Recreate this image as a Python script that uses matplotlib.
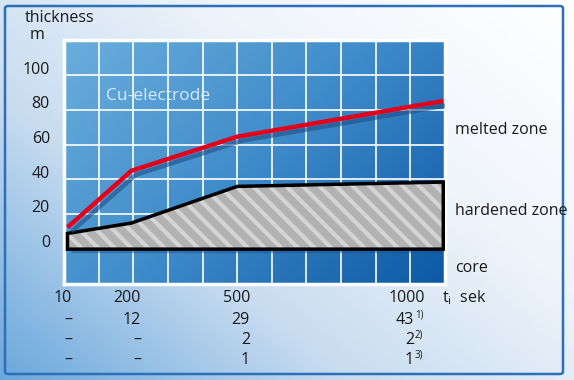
import numpy as np
import matplotlib
matplotlib.use("Agg")
import matplotlib.pyplot as plt
import matplotlib.patheffects as pe
import matplotlib.transforms as mtransforms
from matplotlib.patches import FancyBboxPatch
from matplotlib.colors import LinearSegmentedColormap

plt.rcParams['font.family'] = ['Open Sans', 'DejaVu Sans']
plt.rcParams['hatch.linewidth'] = 3.0

# time (s) and thickness values
melt_t = [10, 200, 500, 1000]
melt_y = [12.5, 45, 64.5, 85]
hard_t = [10, 200, 500, 1000]
hard_y = [9, 15, 36, 38.5]

y_ticks = [0, 20, 40, 60, 80, 100]

# table below the chart
table_cols = ["10", "200", "500", "1000"]
row_hv = ["–", "12", "29", "43"]
row_b = ["–", "–", "2", "2"]
row_c = ["–", "–", "1", "1"]
notes = ["1)", "2)", "3)"]

zones = ["melted zone", "hardened zone", "core"]

# schematic (non-linear) time axis: time -> grid column
bp_t = np.array([0, 10, 200, 500, 1000, 1010])
bp_c = np.array([0, 0.1, 1.95, 5.0, 10.95, 11.0])


def fwd(t):
    return np.interp(t, bp_t, bp_c)


def inv(c):
    return np.interp(c, bp_c, bp_t)


fig = plt.figure(figsize=(5.74, 3.80), dpi=100)
txt = dict(fontsize=11.5, color='#1a1a1a', va='center')

# background of the whole panel (blue bottom-left -> white top-right)
bg = fig.add_axes([0, 0, 1, 1], zorder=-10)
bg.set_axis_off()
gx, gy = np.meshgrid(np.linspace(0, 1, 200), np.linspace(0, 1, 200))
g = np.clip(((1 - gx) * 1.1 + gy * 0.9) / 2.0, 0, 1)
bg_cmap = LinearSegmentedColormap.from_list("bg", ["#ffffff", "#f0f5fb", "#c8dcf0", "#6aa8dc"])
bg.imshow(g, cmap=bg_cmap, extent=[0, 1, 0, 1], aspect='auto', origin='upper')
bg.add_patch(FancyBboxPatch((5 / 574, 6 / 380), 558 / 574, 368 / 380,
                            boxstyle="round,pad=0,rounding_size=0.006",
                            fill=False, ec='#2f6fb8', lw=1.8, transform=bg.transAxes))
bg.set_xlim(0, 1)
bg.set_ylim(0, 1)

ax = fig.add_axes([64 / 574, 1 - 284 / 380, 381 / 574, 244 / 380])
ax.set_xscale('function', functions=(fwd, inv))
ax.set_xlim(0, 1010)
ax.set_ylim(-20, 120)

# blue gradient of the plot area
px, py = np.meshgrid(np.linspace(0, 1, 200), np.linspace(0, 1, 200))
pg = px * 0.6 + py * 0.4
plot_cmap = LinearSegmentedColormap.from_list("pl", ["#6aaedc", "#3f8bca", "#0b58a5"])
ax.imshow(pg, cmap=plot_cmap, extent=[0, 1, 0, 1], aspect='auto', origin='upper',
          transform=ax.transAxes, zorder=0)

ax.set_xticks(inv(np.arange(0, 12)))
ax.set_yticks(np.arange(-20, 121, 20))
ax.grid(True, color='white', lw=1.2, zorder=1)
ax.tick_params(length=0, labelbottom=False, labelleft=False)
for s in ax.spines.values():
    s.set_color('white')
    s.set_linewidth(2.5)

# hardened zone
xs = list(hard_t) + [1000, 10]
ys = list(hard_y) + [0, 0]
shadow = mtransforms.offset_copy(ax.transData, fig=fig, x=4, y=-4, units='dots')
ax.fill(xs, ys, facecolor='#1d4f86', alpha=0.45, lw=0, zorder=2, transform=shadow)
ax.fill(xs, ys, facecolor='#b2b2b2', edgecolor='#d4d4d4', hatch='\\\\', lw=0, zorder=3)
ax.fill(xs, ys, facecolor='none', edgecolor='black', lw=2.5, zorder=4, joinstyle='miter')

# melted zone line
ax.plot(melt_t, melt_y, color='#e3001b', lw=3.2, zorder=5, solid_capstyle='butt',
        path_effects=[pe.SimpleLineShadow(offset=(3, -3), shadow_color='#1d4f86', alpha=0.6),
                      pe.Normal()])

ax.text(0.11, 0.77, "Cu-electrode", transform=ax.transAxes, color='#d9ebf9',
        fontsize=12.5, va='center', ha='left', zorder=6)

# axis labels
fig.text(25 / 574, 1 - 18 / 380, "thickness", ha='left', **txt)
fig.text(30 / 574, 1 - 35 / 380, "m", ha='left', **txt)
for v in y_ticks:
    ypix = 243 - v / 20 * 34.7
    fig.text(50 / 574, 1 - ypix / 380, str(v), ha='right', **txt)

# zone labels
for name, ypix in zip(zones, [130, 211, 268]):
    fig.text(455 / 574, 1 - ypix / 380, name, ha='left', **txt)

# table rows
col_right = [72, 141, 250, 425]
row_pix = [298, 320, 340, 360]
for x, lab in zip(col_right, table_cols):
    fig.text(x / 574, 1 - row_pix[0] / 380, lab, ha='right', **txt)
fig.text(442 / 574, 1 - row_pix[0] / 380, r"t$_\mathregular{i}$  sek", ha='left', **txt)
for r, row in enumerate([row_hv, row_b, row_c]):
    yp = 1 - row_pix[r + 1] / 380
    for c, val in enumerate(row):
        if c == 3:
            fig.text(414 / 574, yp, val, ha='right', **txt)
            fig.text(415 / 574, yp + 0.012, notes[r], fontsize=7, va='center', ha='left', color='#1a1a1a')
        elif val == "–":
            fig.text((col_right[c] - 4) / 574, yp, val, ha='center', **txt)
        else:
            fig.text(col_right[c] / 574, yp, val, ha='right', **txt)

fig.savefig("out.png", dpi=100)
